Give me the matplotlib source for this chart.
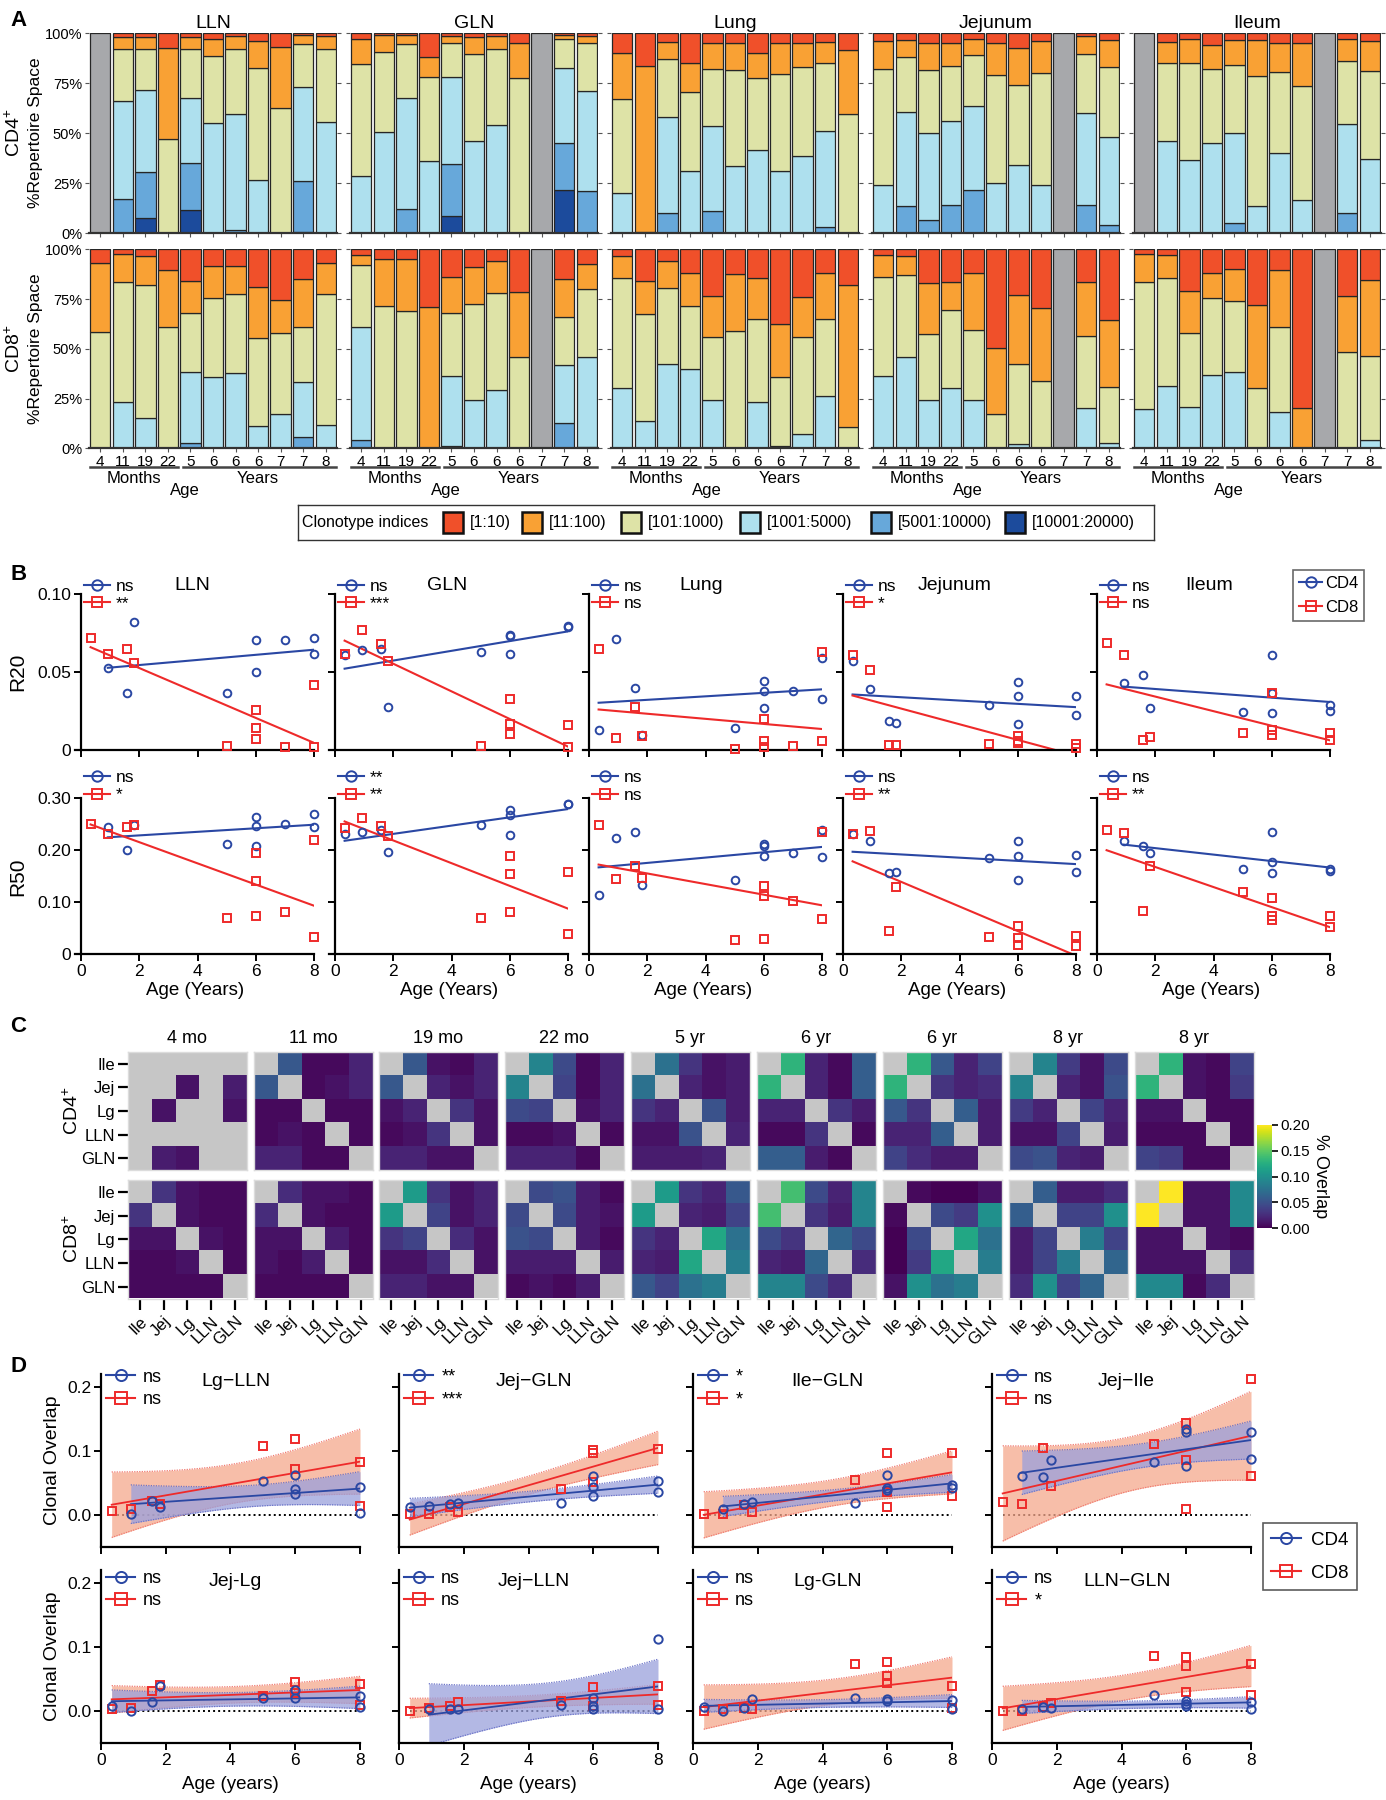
import numpy as np
import matplotlib
matplotlib.use('Agg')
import matplotlib.pyplot as plt
from matplotlib.lines import Line2D
from matplotlib.patches import Rectangle
from matplotlib.transforms import blended_transform_factory

plt.rcParams['font.family'] = ['Liberation Sans', 'DejaVu Sans']
plt.rcParams['mathtext.fontset'] = 'custom'
plt.rcParams['mathtext.rm'] = 'Liberation Sans'
plt.rcParams['axes.linewidth'] = 1.2

nan = np.nan

# ======================= Panel A data =======================
TISSUES = ['LLN', 'GLN', 'Lung', 'Jejunum', 'Ileum']
AGE_LABELS = ['4', '11', '19', '22', '5', '6', '6', '6', '7', '7', '8']
CLONO_LABELS = ['[1:10)', '[11:100)', '[101:1000)', '[1001:5000)', '[5001:10000)', '[10001:20000)']
# cumulative tops (%) from the bottom: [10001:20000], [5001:10000], [1001:5000], [101:1000], [11:100]
# [1:10] fills up to 100 %; None = sample not available (grey bar)
A_CD4 = {
    'LLN': [None, [0, 17, 66.3, 92, 98.3], [7.7, 30.5, 71.7, 92.3, 98.3], [0, 0, 0, 47, 92.8],
            [11.7, 35, 67.8, 92, 98], [0, 0, 55, 88.7, 97], [0, 1.5, 59.5, 92.3, 98.7],
            [0, 0, 26.7, 82.8, 96.3], [0, 0, 0, 62.8, 93], [0.7, 26, 73, 94.7, 99.2], [0, 0, 55.8, 92, 98.7]],
    'GLN': [[0, 0, 28.8, 84.7, 97], [0, 0, 50.7, 90.8, 99.2], [0, 12.3, 67.8, 94.5, 99], [0, 0, 36.3, 78.3, 88.3],
            [8.8, 34.7, 78, 95, 98.7], [0, 0, 46.2, 89.5, 98.3], [0, 0, 54, 92, 98.7], [0, 0, 0, 77.5, 95],
            None, [21.7, 45.3, 82.5, 97, 99.2], [0, 21.2, 71.2, 95, 98.7]],
    'Lung': [[0, 0, 20, 67, 90.3], [0.8, 0.8, 0.8, 0.8, 83.7], [0, 10, 58.3, 87, 95.8], [0, 0, 31.3, 70.8, 85],
             [0, 11.3, 53.7, 82, 95], [0, 0, 33.8, 81.7, 95.3], [0, 0, 41.7, 77.5, 90.3], [0, 0, 31.3, 79.7, 95],
             [0, 0, 38.8, 83.3, 95.3], [0, 3, 51.2, 85.3, 95.5], [0, 0, 0, 59.7, 91.7]],
    'Jejunum': [[0, 0, 24, 82, 96.2], [0, 13.5, 60.8, 88.2, 96.7], [0, 6.7, 50, 81.7, 95.2], [0, 14.2, 56.3, 83.7, 95],
                [0, 21.7, 63.8, 89.2, 97], [0, 0, 25.3, 79, 95], [0, 0, 34, 74.2, 92.5], [0, 0, 24, 80, 96.2],
                None, [0, 14.2, 60, 89.7, 98.7], [0, 4, 48, 83.2, 96.7]],
    'Ileum': [None, [0, 0, 46.3, 85, 95.8], [0, 0, 36.7, 85, 97.3], [0, 0, 45, 82, 94.2],
              [0, 5, 50, 84.2, 96.7], [0, 0, 13.7, 78.7, 96.7], [0, 0, 40.3, 80.8, 95.3], [0, 0, 16.7, 73.8, 95],
              None, [0, 10, 54.7, 86.2, 97], [0, 0, 37.2, 81.3, 96.2]],
}
A_CD8 = {
    'LLN': [[0, 0, 0, 58.6, 93], [0, 0, 23.1, 83.8, 97.5], [0, 0, 15.1, 82.1, 96.8], [0, 0, 0, 61.1, 89.6],
            [0, 2.5, 38.5, 68.2, 84.3], [0, 0, 35.7, 75.4, 91.8], [0, 0, 38, 77.4, 91.8], [0, 0, 11.4, 55.3, 81.2],
            [0, 0, 17.1, 57.8, 74.5], [0, 5.5, 33.2, 61.1, 84.9], [0, 0, 11.7, 77.4, 93]],
    'GLN': [[0, 4.2, 61, 92.1, 97.2], [0, 0, 0, 71.7, 95], [0, 0, 0, 69.2, 95], [0, 0, 0, 0, 70.9],
            [1.2, 1.2, 36.5, 68.2, 86], [0, 0, 24.3, 72.4, 91], [0, 0, 29.3, 77.9, 94.1], [0, 0, 0, 45.9, 78.7],
            None, [0, 12.9, 41.9, 66.2, 84.9], [0.5, 0.5, 45.7, 80.1, 92.8]],
    'Lung': [[0, 0, 30.5, 85.4, 96.6], [0, 0, 13.9, 67.5, 84.1], [0, 0, 42.4, 80.7, 94.1], [0, 0, 39.7, 71.5, 87.9],
             [0, 0, 24.5, 56.1, 76.5], [0, 0, 0, 59, 87.8], [0, 0, 23.5, 64.8, 85.8], [0, 1.3, 1.3, 36, 62.3],
             [0, 0, 7, 56.1, 76.2], [0, 0, 26.3, 64.8, 87.9], [0, 0, 0, 10.9, 82.1]],
    'Jejunum': [[0, 0, 36.2, 86.1, 97.2], [0, 0, 46.1, 87.1, 96.6], [0, 0, 24.1, 57.3, 83.2], [0, 0, 30.5, 69.3, 83.8],
                [0, 0, 24.5, 59.3, 88.3], [0, 0, 0, 17.4, 50.3], [0, 0, 2, 42.4, 76.9], [0, 0, 0, 34, 70.4],
                None, [0, 0, 20.1, 56.4, 83.4], [0, 0, 2.7, 30.7, 64.5]],
    'Ileum': [[0, 0, 19.8, 83.8, 97.7], [0, 0, 31.5, 85.4, 97.2], [0, 0, 20.6, 58.1, 79.1], [0, 0, 36.9, 75.7, 88.3],
              [0, 0, 38.5, 74, 89.9], [0, 0, 0, 30.5, 72], [0, 0, 18.4, 61.1, 89.4], [0, 0, 0, 0, 20.4],
              None, [0, 0, 0, 48.6, 76.7], [0, 0, 4.4, 46.4, 84.6]],
}

# ======================= Panel B data =======================
R20_CD4 = {
    'LLN': ([0.92, 1.58, 1.83, 5, 6, 6, 7, 8, 8], [0.053, 0.037, 0.082, 0.037, 0.071, 0.050, 0.071, 0.072, 0.062]),
    'GLN': ([0.33, 0.92, 1.58, 1.83, 5, 6, 6, 6, 8, 8], [0.061, 0.064, 0.065, 0.028, 0.063, 0.074, 0.073, 0.062, 0.080, 0.079]),
    'Lung': ([0.33, 0.92, 1.58, 1.83, 5, 6, 6, 6, 7, 8, 8], [0.013, 0.0715, 0.040, 0.010, 0.014, 0.0445, 0.038, 0.027, 0.038, 0.059, 0.033]),
    'Jejunum': ([0.33, 0.92, 1.58, 1.83, 5, 6, 6, 6, 8, 8], [0.0575, 0.039, 0.019, 0.0176, 0.029, 0.044, 0.035, 0.017, 0.0345, 0.0225]),
    'Ileum': ([0.92, 1.58, 1.83, 5, 6, 6, 6, 8, 8], [0.043, 0.048, 0.027, 0.0245, 0.061, 0.037, 0.024, 0.029, 0.025]),
}
R20_CD8 = {
    'LLN': ([0.33, 0.92, 1.58, 1.83, 5, 6, 6, 6, 7, 8, 8], [0.072, 0.062, 0.065, 0.056, 0.003, 0.026, 0.014, 0.007, 0.002, 0.042, 0.002]),
    'GLN': ([0.33, 0.92, 1.58, 1.83, 5, 6, 6, 6, 8, 8], [0.062, 0.077, 0.068, 0.057, 0.003, 0.033, 0.017, 0.0105, 0.016, 0.002]),
    'Lung': ([0.33, 0.92, 1.58, 1.83, 5, 6, 6, 6, 7, 8, 8], [0.065, 0.008, 0.028, 0.009, 0.001, 0.020, 0.006, 0.002, 0.003, 0.063, 0.006]),
    'Jejunum': ([0.33, 0.92, 1.58, 1.83, 5, 6, 6, 6, 8, 8], [0.061, 0.0515, 0.0034, 0.0034, 0.004, 0.009, 0.006, 0.005, 0.004, 0.0013]),
    'Ileum': ([0.33, 0.92, 1.58, 1.83, 5, 6, 6, 6, 8, 8], [0.069, 0.061, 0.0067, 0.0086, 0.011, 0.037, 0.013, 0.010, 0.011, 0.0064]),
}
R50_CD4 = {
    'LLN': ([0.92, 1.58, 1.83, 5, 6, 6, 6, 7, 8, 8], [0.244, 0.201, 0.249, 0.2115, 0.264, 0.246, 0.208, 0.251, 0.2705, 0.2455]),
    'GLN': ([0.33, 0.92, 1.58, 1.83, 5, 6, 6, 6, 8, 8], [0.231, 0.236, 0.240, 0.196, 0.248, 0.278, 0.267, 0.2295, 0.290, 0.2885]),
    'Lung': ([0.33, 0.92, 1.58, 1.83, 5, 6, 6, 6, 7, 8, 8], [0.115, 0.223, 0.235, 0.133, 0.142, 0.212, 0.209, 0.190, 0.195, 0.239, 0.187]),
    'Jejunum': ([0.33, 0.92, 1.58, 1.83, 5, 6, 6, 6, 8, 8], [0.231, 0.218, 0.156, 0.159, 0.185, 0.217, 0.190, 0.142, 0.191, 0.158]),
    'Ileum': ([0.92, 1.58, 1.83, 5, 6, 6, 6, 8, 8], [0.217, 0.209, 0.1955, 0.165, 0.235, 0.178, 0.157, 0.1635, 0.160]),
}
R50_CD8 = {
    'LLN': ([0.33, 0.92, 1.58, 1.83, 5, 6, 6, 6, 7, 8, 8], [0.250, 0.232, 0.244, 0.249, 0.070, 0.194, 0.141, 0.074, 0.081, 0.2205, 0.033]),
    'GLN': ([0.33, 0.92, 1.58, 1.83, 5, 6, 6, 6, 8, 8], [0.242, 0.262, 0.247, 0.228, 0.070, 0.190, 0.1545, 0.081, 0.158, 0.040]),
    'Lung': ([0.33, 0.92, 1.58, 1.83, 5, 6, 6, 6, 7, 8, 8], [0.249, 0.145, 0.1705, 0.146, 0.028, 0.131, 0.112, 0.030, 0.102, 0.236, 0.068]),
    'Jejunum': ([0.33, 0.92, 1.58, 1.83, 5, 6, 6, 6, 8, 8], [0.232, 0.238, 0.044, 0.129, 0.034, 0.055, 0.031, 0.018, 0.036, 0.016]),
    'Ileum': ([0.33, 0.92, 1.58, 1.83, 5, 6, 6, 6, 8, 8], [0.240, 0.234, 0.083, 0.169, 0.1205, 0.109, 0.074, 0.066, 0.074, 0.053]),
}
R20_SIG = {'LLN': ('ns', '**'), 'GLN': ('ns', '***'), 'Lung': ('ns', 'ns'), 'Jejunum': ('ns', '*'), 'Ileum': ('ns', 'ns')}
R50_SIG = {'LLN': ('ns', '*'), 'GLN': ('**', '**'), 'Lung': ('ns', 'ns'), 'Jejunum': ('ns', '**'), 'Ileum': ('ns', '**')}

# ======================= Panel C data =======================
C_TITLES = ['4 mo', '11 mo', '19 mo', '22 mo', '5 yr', '6 yr', '6 yr', '8 yr', '8 yr']
C_SITES = ['Ile', 'Jej', 'Lg', 'LLN', 'GLN']
# upper-triangle overlaps: Ile-Jej, Ile-Lg, Ile-LLN, Ile-GLN, Jej-Lg, Jej-LLN, Jej-GLN, Lg-LLN, Lg-GLN, LLN-GLN
C_CD4 = [
    [nan, nan, nan, nan, 0.010, nan, 0.015, nan, 0.010, nan],
    [0.055, 0.005, 0.005, 0.020, 0.005, 0.010, 0.020, 0.005, 0.005, 0.005],
    [0.055, 0.010, 0.005, 0.020, 0.020, 0.010, 0.020, 0.030, 0.010, 0.010],
    [0.090, 0.045, 0.005, 0.020, 0.040, 0.005, 0.020, 0.010, 0.020, 0.005],
    [0.075, 0.030, 0.010, 0.015, 0.020, 0.010, 0.015, 0.050, 0.015, 0.020],
    [0.130, 0.020, 0.005, 0.060, 0.020, 0.005, 0.060, 0.030, 0.015, 0.005],
    [0.130, 0.055, 0.020, 0.040, 0.030, 0.020, 0.025, 0.060, 0.015, 0.015],
    [0.090, 0.035, 0.010, 0.045, 0.020, 0.010, 0.050, 0.040, 0.020, 0.015],
    [0.130, 0.010, 0.005, 0.040, 0.010, 0.005, 0.035, 0.005, 0.005, 0.005],
]
C_CD8 = [
    [0.030, 0.010, 0.005, 0.005, 0.010, 0.005, 0.005, 0.010, 0.005, 0.005],
    [0.025, 0.010, 0.010, 0.005, 0.010, 0.005, 0.005, 0.015, 0.005, 0.005],
    [0.110, 0.030, 0.010, 0.020, 0.040, 0.010, 0.020, 0.025, 0.010, 0.010],
    [0.045, 0.050, 0.015, 0.005, 0.045, 0.015, 0.010, 0.015, 0.005, 0.015],
    [0.110, 0.030, 0.020, 0.055, 0.020, 0.015, 0.040, 0.120, 0.075, 0.085],
    [0.140, 0.045, 0.020, 0.090, 0.030, 0.015, 0.090, 0.065, 0.045, 0.025],
    [0.005, 0.000, 0.000, 0.010, 0.045, 0.035, 0.100, 0.120, 0.075, 0.085],
    [0.060, 0.015, 0.015, 0.025, 0.040, 0.040, 0.100, 0.085, 0.040, 0.065],
    [0.200, 0.010, 0.010, 0.095, 0.010, 0.010, 0.095, 0.010, 0.005, 0.025],
]

# ======================= Panel D data =======================
D_PAIRS = ['Lg\u2212LLN', 'Jej\u2212GLN', 'Ile\u2212GLN', 'Jej\u2212Ile', 'Jej-Lg', 'Jej\u2212LLN', 'Lg-GLN', 'LLN\u2212GLN']
D_CD4 = [
    ([0.92, 1.58, 1.83, 5, 6, 6, 6, 8, 8], [0.002, 0.021, 0.013, 0.053, 0.063, 0.040, 0.033, 0.043, 0.003]),
    ([0.33, 0.92, 1.58, 1.83, 5, 6, 6, 6, 8, 8], [0.013, 0.0135, 0.017, 0.018, 0.019, 0.061, 0.043, 0.029, 0.053, 0.036]),
    ([0.92, 1.58, 1.83, 5, 6, 6, 6, 8, 8], [0.010, 0.017, 0.020, 0.019, 0.062, 0.042, 0.039, 0.046, 0.042]),
    ([0.92, 1.58, 1.83, 5, 6, 6, 6, 8, 8], [0.060, 0.059, 0.086, 0.083, 0.134, 0.129, 0.077, 0.129, 0.087]),
    ([0.33, 0.92, 1.58, 1.83, 5, 6, 6, 8, 8], [0.008, 0.001, 0.015, 0.040, 0.020, 0.021, 0.033, 0.023, 0.006]),
    ([0.92, 1.58, 1.83, 5, 6, 6, 6, 8, 8], [0.004, 0.004, 0.004, 0.010, 0.020, 0.008, 0.003, 0.113, 0.003]),
    ([0.33, 0.92, 1.58, 1.83, 5, 6, 6, 8, 8], [0.007, 0.001, 0.005, 0.019, 0.021, 0.019, 0.016, 0.017, 0.004]),
    ([0.92, 1.58, 1.83, 5, 6, 6, 6, 8, 8], [0.003, 0.007, 0.005, 0.025, 0.016, 0.012, 0.008, 0.015, 0.004]),
]
D_CD8 = [
    ([0.33, 0.92, 1.58, 1.83, 5, 6, 6, 8, 8], [0.006, 0.010, 0.021, 0.017, 0.107, 0.118, 0.071, 0.083, 0.014]),
    ([0.33, 0.92, 1.58, 1.83, 5, 6, 6, 6, 8], [0.002, 0.001, 0.013, 0.004, 0.040, 0.101, 0.096, 0.052, 0.102]),
    ([0.33, 0.92, 1.58, 1.83, 5, 6, 6, 6, 8, 8], [0.002, 0.002, 0.015, 0.004, 0.055, 0.096, 0.036, 0.013, 0.097, 0.030]),
    ([0.33, 0.92, 1.58, 1.83, 5, 6, 6, 6, 8, 8], [0.020, 0.017, 0.105, 0.045, 0.110, 0.144, 0.085, 0.009, 0.212, 0.061]),
    ([0.33, 0.92, 1.58, 1.83, 5, 6, 6, 8, 8], [0.004, 0.005, 0.032, 0.041, 0.024, 0.046, 0.028, 0.042, 0.010]),
    ([0.33, 0.92, 1.58, 1.83, 5, 6, 6, 8, 8], [0.001, 0.005, 0.008, 0.015, 0.016, 0.038, 0.008, 0.039, 0.010]),
    ([0.33, 0.92, 1.58, 1.83, 5, 6, 6, 6, 8, 8], [0.001, 0.003, 0.005, 0.003, 0.073, 0.077, 0.055, 0.044, 0.040, 0.005]),
    ([0.33, 0.92, 1.58, 1.83, 5, 6, 6, 6, 8, 8], [0.000, 0.001, 0.007, 0.013, 0.086, 0.085, 0.070, 0.030, 0.074, 0.026]),
]
D_SIG = [('ns', 'ns'), ('**', '***'), ('*', '*'), ('ns', 'ns'), ('ns', 'ns'), ('ns', 'ns'), ('ns', 'ns'), ('ns', '*')]

# ======================= styling =======================
SEG_COLORS = ['#1c4b9c', '#67a8da', '#aee0ee', '#dee3a7', '#f9a134', '#f0502a']  # bottom -> top
GRAY_BAR = '#a7a8ab'
EDGE = '#262626'
BLUE = '#2a47a3'
RED = '#ee2a2a'
T975 = {4: 2.776, 5: 2.571, 6: 2.447, 7: 2.365, 8: 2.306, 9: 2.262, 10: 2.228, 11: 2.201, 12: 2.179}

W, H = 1386, 1800
fig = plt.figure(figsize=(W / 100, H / 100), dpi=100)


def add_ax(x0, y0, x1, y1):
    return fig.add_axes([x0 / W, 1 - y1 / H, (x1 - x0) / W, (y1 - y0) / H])


def ftext(x, y, s, **kw):
    fig.text(x / W, 1 - y / H, s, **kw)


# panel letters
for letter, (lx, ly) in zip('ABCD', [(10, 21), (10, 575), (10, 1027), (10, 1367)]):
    ftext(lx, ly, letter, fontsize=16, fontweight='bold', ha='left', va='center')

# ======================= Panel A =======================
A_LEFT = [89, 350, 611, 872, 1133]
A_W = 248
A_ROWS = [(A_CD4, 33.3, 233.3), (A_CD8, 249.3, 448.3)]
for r, (adata, y0, y1) in enumerate(A_ROWS):
    for j, t in enumerate(TISSUES):
        ax = add_ax(A_LEFT[j], y0, A_LEFT[j] + A_W, y1)
        for i, tops in enumerate(adata[t]):
            if tops is None:
                ax.bar(i, 100, width=0.9, color=GRAY_BAR, edgecolor=EDGE, linewidth=0.9)
                continue
            bounds = [0] + list(tops) + [100]
            for k in range(6):
                h = bounds[k + 1] - bounds[k]
                if h > 0:
                    ax.bar(i, h, bottom=bounds[k], width=0.9, color=SEG_COLORS[k],
                           edgecolor=EDGE, linewidth=0.9)
        ax.set_xlim(-0.5, 10.5)
        ax.set_ylim(0, 100)
        for s in ['top', 'right', 'left']:
            ax.spines[s].set_visible(False)
        ax.spines['bottom'].set_linewidth(1.6)
        ax.spines['bottom'].set_color('#333333')
        ax.set_yticks([0, 25, 50, 75, 100])
        ax.tick_params(axis='y', left=True, right=True, length=3, width=0.8, color='#555555',
                       labelsize=10.5, pad=2)
        if j == 0:
            ax.set_yticklabels(['0%', '25%', '50%', '75%', '100%'])
        else:
            ax.set_yticklabels([])
        ax.set_xticks(range(11))
        ax.tick_params(axis='x', length=3, width=0.8, color='#555555', pad=2, labelsize=11)
        if r == 0:
            ax.set_xticklabels([])
            ax.set_title(t, fontsize=14, pad=4)
        else:
            ax.set_xticklabels(AGE_LABELS)
            tr = blended_transform_factory(ax.transData, ax.transAxes)
            ax.plot([-0.45, 3.45], [-0.094, -0.094], color='#444444', lw=1.8, transform=tr, clip_on=False)
            ax.plot([3.65, 10.45], [-0.094, -0.094], color='#444444', lw=1.8, transform=tr, clip_on=False)
            ax.text(1.5, -0.15, 'Months', transform=tr, ha='center', va='center', fontsize=12)
            ax.text(7.0, -0.15, 'Years', transform=tr, ha='center', va='center', fontsize=12)
            ax.text(3.75, -0.21, 'Age', transform=tr, ha='center', va='center', fontsize=12)

ftext(14, 133, r'CD4$^{+}$', rotation=90, ha='center', va='center', fontsize=14)
ftext(36, 133, '%Repertoire Space', rotation=90, ha='center', va='center', fontsize=12.5)
ftext(14, 349, r'CD8$^{+}$', rotation=90, ha='center', va='center', fontsize=14)
ftext(36, 349, '%Repertoire Space', rotation=90, ha='center', va='center', fontsize=12.5)

# legend of panel A (manual, single line)
lax = add_ax(298, 505, 1154, 540)
lax.set_xlim(298, 1154)
lax.set_ylim(540, 505)
lax.set_xticks([])
lax.set_yticks([])
for s in lax.spines.values():
    s.set_linewidth(1.0)
    s.set_color('#333333')
lax.text(302, 522.5, 'Clonotype indices', ha='left', va='center', fontsize=11.5)
LEG_PATCH_X = [443, 522, 621, 740, 871, 1005]
for k, px in enumerate(LEG_PATCH_X):
    lax.add_patch(Rectangle((px, 512), 20, 21, facecolor=SEG_COLORS[5 - k], edgecolor='#111111', lw=1.8))
    lax.text(px + 27, 522.5, CLONO_LABELS[k], ha='left', va='center', fontsize=11.5)

# ======================= Panel B =======================
B_X0 = [81, 335, 589, 843, 1097]
B_PXW = 233.0
B_XMIN = -0.2
B_ROWS = [('R20', R20_CD4, R20_CD8, R20_SIG, 594.3, 750.3, 0.10, [0, 0.05, 0.10], ['0', '0.05', '0.10'], 1.10),
          ('R50', R50_CD4, R50_CD8, R50_SIG, 798.3, 954.3, 0.30, [0, 0.1, 0.2, 0.3], ['0', '0.10', '0.20', '0.30'], 1.18)]


def fit_line(x, y):
    x = np.asarray(x, float)
    y = np.asarray(y, float)
    b, a = np.polyfit(x, y, 1)
    xs = np.array([x.min(), x.max()])
    return xs, a + b * xs


for r, (ylab, d4, d8, sig, y0, y1, ytop, yt, ytl, leg_y) in enumerate(B_ROWS):
    for j, t in enumerate(TISSUES):
        x_left = B_X0[j] + B_XMIN * B_PXW / 8
        ax = add_ax(x_left, y0, B_X0[j] + B_PXW, y1)
        for (xv, yv), col, mk in [(d4[t], BLUE, 'o'), (d8[t], RED, 's')]:
            xs, ys = fit_line(xv, yv)
            ax.plot(xs, ys, color=col, lw=1.5, zorder=2)
            ax.plot(xv, yv, ls='none', marker=mk, ms=5.5, mfc='none', mec=col, mew=1.4,
                    clip_on=False, zorder=3)
        ax.set_xlim(B_XMIN, 8)
        ax.set_ylim(0, ytop)
        ax.spines['left'].set_position(('data', 0))
        for s in ['top', 'right']:
            ax.spines[s].set_visible(False)
        for s in ['left', 'bottom']:
            ax.spines[s].set_linewidth(1.6)
        ax.set_xticks([0, 2, 4, 6, 8])
        ax.set_yticks(yt)
        ax.tick_params(length=5, width=1.4, labelsize=12.5, pad=2)
        if j == 0:
            ax.set_yticklabels(ytl)
        else:
            ax.set_yticklabels([])
        if r == 0:
            ax.set_xticklabels([])
            ax.set_title(t, fontsize=14, pad=3, x=(4 - B_XMIN) / (8 - B_XMIN) - 0.02)
        else:
            ax.set_xlabel('Age (Years)', fontsize=13.5, labelpad=2)
        hnd = [Line2D([], [], color=BLUE, marker='o', ms=7.5, mfc='none', mec=BLUE, mew=1.4, lw=1.5),
               Line2D([], [], color=RED, marker='s', ms=7.5, mfc='none', mec=RED, mew=1.4, lw=1.5)]
        ax.legend(hnd, list(sig[t]), loc='upper left', bbox_to_anchor=(0.035, leg_y), frameon=False,
                  fontsize=12.5, handlelength=1.5, handletextpad=0.35, labelspacing=0.12,
                  borderpad=0, borderaxespad=0)
    ftext(18, (y0 + y1) / 2, ylab, rotation=90, ha='center', va='center', fontsize=15)

bh = [Line2D([], [], color=BLUE, marker='o', ms=7.5, mfc='none', mec=BLUE, mew=1.4, lw=1.5),
      Line2D([], [], color=RED, marker='s', ms=7.5, mfc='none', mec=RED, mew=1.4, lw=1.5)]
fig.legend(bh, ['CD4', 'CD8'], loc='upper left', bbox_to_anchor=(1293 / W, 1 - 570 / H), frameon=True,
           fancybox=False, edgecolor='#444444', fontsize=12, handlelength=1.4, handletextpad=0.15,
           labelspacing=0.55, borderpad=0.35, borderaxespad=0).get_frame().set_linewidth(1.2)

# ======================= Panel C =======================
C_X0 = [128, 254, 379, 505, 631, 757, 883, 1009, 1135]
C_SZ = 118.5
C_ROWS = [(C_CD4, 1051.7, r'CD4$^{+}$'), (C_CD8, 1180.0, r'CD8$^{+}$')]
cmap = plt.get_cmap('viridis').copy()
cmap.set_bad('#c6c6c6')
iu = np.triu_indices(5, 1)
im = None
for r, (cdata, y0, rlab) in enumerate(C_ROWS):
    for j in range(9):
        M = np.full((5, 5), np.nan)
        M[iu] = cdata[j]
        M[(iu[1], iu[0])] = cdata[j]
        ax = add_ax(C_X0[j], y0, C_X0[j] + C_SZ, y0 + C_SZ)
        im = ax.imshow(np.ma.masked_invalid(M), cmap=cmap, vmin=0, vmax=0.2, aspect='auto',
                       interpolation='nearest')
        for s in ax.spines.values():
            s.set_color('#dcdcdc')
            s.set_linewidth(1.0)
        ax.set_xticks(range(5))
        ax.set_yticks(range(5))
        ax.tick_params(axis='y', length=7, width=1.6, labelsize=12, pad=2, left=(j == 0), labelleft=(j == 0))
        ax.set_yticklabels(C_SITES)
        if r == 1:
            ax.tick_params(axis='x', length=8, width=1.6, labelsize=12, pad=3)
            ax.set_xticklabels(C_SITES, rotation=45, ha='right', rotation_mode='anchor')
        else:
            ax.tick_params(axis='x', bottom=False, labelbottom=False)
            ax.set_title(C_TITLES[j], fontsize=13, pad=6)
    ftext(72, y0 + C_SZ / 2, rlab, rotation=90, ha='center', va='center', fontsize=14)

cax = add_ax(1257, 1125, 1272, 1228)
cb = fig.colorbar(im, cax=cax, ticks=[0, 0.05, 0.10, 0.15, 0.20])
cb.ax.set_yticklabels(['0.00', '0.05', '0.10', '0.15', '0.20'])
cb.ax.tick_params(labelsize=11, length=4, width=1.2, pad=2)
cb.outline.set_visible(False)
cb.set_label('% Overlap', rotation=270, fontsize=13, labelpad=14)

# ======================= Panel D =======================
D_X0 = [101, 399, 693, 992]
D_PXW = 259.0
D_ROWS_Y = [(1373.8, 1547.0), (1570.0, 1743.3)]
D_TITLE_Y = [0.954, 0.932]
D_LEG_Y = [1.03, 1.0]


def ci_band(x, y, xs):
    x = np.asarray(x, float)
    y = np.asarray(y, float)
    n = len(x)
    b, a = np.polyfit(x, y, 1)
    yhat = a + b * xs
    resid = y - (a + b * x)
    s = np.sqrt(np.sum(resid ** 2) / (n - 2))
    se = s * np.sqrt(1.0 / n + (xs - x.mean()) ** 2 / np.sum((x - x.mean()) ** 2))
    t = T975[n - 2]
    return yhat, yhat - t * se, yhat + t * se


for p in range(8):
    r, c = divmod(p, 4)
    y0, y1 = D_ROWS_Y[r]
    ax = add_ax(D_X0[c], y0, D_X0[c] + D_PXW, y1)
    all_x = []
    for (xv, yv), col, band_col, edge_col, mk, z in [
            (D_CD8[p], RED, '#f5a88c', '#f07a70', 's', 1),
            (D_CD4[p], BLUE, '#9aa0dc', '#6c74c8', 'o', 2)]:
        all_x += list(xv)
        xs = np.linspace(min(xv), max(xv), 120)
        yhat, lo, hi = ci_band(xv, yv, xs)
        ax.fill_between(xs, lo, hi, color=band_col, alpha=0.75, lw=0, zorder=z)
        ax.plot(xs, lo, ls=(0, (1, 1)), color=edge_col, lw=0.9, zorder=z)
        ax.plot(xs, hi, ls=(0, (1, 1)), color=edge_col, lw=0.9, zorder=z)
        ax.plot(xs, yhat, color=col, lw=1.3, zorder=z + 2)
    ax.hlines(0, min(all_x), max(all_x), colors='black', linestyles=(0, (1, 1.6)), lw=1.4, zorder=0)
    for (xv, yv), col, mk in [(D_CD8[p], RED, 's'), (D_CD4[p], BLUE, 'o')]:
        ax.plot(xv, yv, ls='none', marker=mk, ms=6, mfc='none', mec=col, mew=1.4, clip_on=False, zorder=6)
    ax.set_xlim(0, 8)
    ax.set_ylim(-0.05, 0.22)
    for s in ['top', 'right']:
        ax.spines[s].set_visible(False)
    for s in ['left', 'bottom']:
        ax.spines[s].set_linewidth(1.6)
    ax.set_xticks([0, 2, 4, 6, 8])
    ax.set_yticks([0.0, 0.1, 0.2])
    ax.tick_params(length=5, width=1.4, labelsize=12.5, pad=2)
    if c == 0:
        ax.set_yticklabels(['0.0', '0.1', '0.2'])
        ax.set_ylabel('Clonal Overlap', fontsize=14, labelpad=4)
    else:
        ax.set_yticklabels([])
    if r == 0:
        ax.set_xticklabels([])
    else:
        ax.set_xlabel('Age (years)', fontsize=13.5, labelpad=6)
    ax.text(0.52, D_TITLE_Y[r], D_PAIRS[p], transform=ax.transAxes, ha='center', va='center', fontsize=14)
    hnd = [Line2D([], [], color=BLUE, marker='o', ms=8, mfc='none', mec=BLUE, mew=1.4, lw=1.5),
           Line2D([], [], color=RED, marker='s', ms=8, mfc='none', mec=RED, mew=1.4, lw=1.5)]
    ax.legend(hnd, list(D_SIG[p]), loc='upper left', bbox_to_anchor=(0.02, D_LEG_Y[r]), frameon=False,
              fontsize=13, handlelength=1.6, handletextpad=0.45, labelspacing=0.3,
              borderpad=0, borderaxespad=0)

dh = [Line2D([], [], color=BLUE, marker='o', ms=8, mfc='none', mec=BLUE, mew=1.4, lw=1.5),
      Line2D([], [], color=RED, marker='s', ms=8, mfc='none', mec=RED, mew=1.4, lw=1.5)]
fig.legend(dh, ['CD4', 'CD8'], loc='upper left', bbox_to_anchor=(1263 / W, 1 - 1523 / H), frameon=True,
           fancybox=False, edgecolor='#333333', fontsize=13.5, handlelength=1.6, handletextpad=0.5,
           labelspacing=0.85, borderpad=0.45, borderaxespad=0).get_frame().set_linewidth(1.2)

fig.savefig('out.png', dpi=100)
